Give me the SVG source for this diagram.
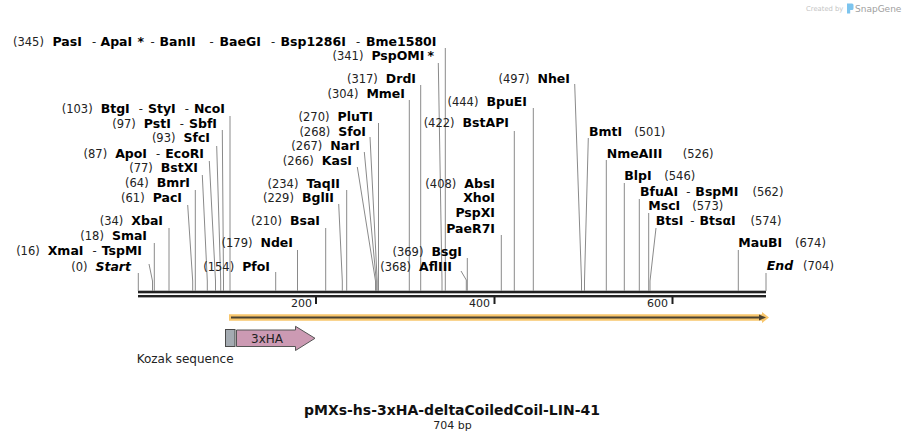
<svg xmlns="http://www.w3.org/2000/svg" width="905" height="441" viewBox="0 0 905 441">
<style>
text{font-family:"DejaVu Sans",Verdana,sans-serif}
.n{font-size:11.5px;fill:#222}
.b{font-size:12.5px;font-weight:bold;fill:#000}
.bi{font-size:12.5px;font-weight:bold;font-style:italic;fill:#000}
.c{fill:none;stroke:#8a8a8a;stroke-width:1}
.tk{stroke:#1e1e1e;stroke-width:2}
.tl{font-size:11px;fill:#222}
</style>
<rect width="905" height="441" fill="#fff"/>
<g id="watermark">
<text x="806" y="10.5" style="font-size:6.8px;fill:#c4c4c4">Created by</text>
<path d="M847 3.5h5a1.5 1.5 0 0 1 1.5 1.5v3.5a1.5 1.5 0 0 1-1.5 1.5h-1.8v3.5h-3.2z" fill="#7cc4ee"/>
<text x="855" y="11.5" style="font-size:9px;fill:#a0a0a0">SnapGene</text>
</g>
<g id="backbone">
<rect x="138" y="290.7" width="628" height="2.6" fill="#222"/>
<rect x="138" y="295" width="628" height="2.4" fill="#222"/>
<line class="tk" x1="316" y1="297" x2="316" y2="304"/>
<line class="tk" x1="494.5" y1="297" x2="494.5" y2="304"/>
<line class="tk" x1="672.5" y1="297" x2="672.5" y2="304"/>
<text class="tl" x="312" y="307" text-anchor="end">200</text>
<text class="tl" x="490" y="307" text-anchor="end">400</text>
<text class="tl" x="668" y="307" text-anchor="end">600</text>
</g>
<g id="connectors">
<polyline class="c" points="138.3,273 138.3,291"/>
<polyline class="c" points="149,264 152.5,281 152.5,291"/>
<polyline class="c" points="154.3,243 154.3,291"/>
<polyline class="c" points="169,228 169,291"/>
<polyline class="c" points="187.7,205 192.7,281 192.7,291"/>
<polyline class="c" points="195.3,190 195.3,291"/>
<polyline class="c" points="202.3,175 207.3,281 207.3,291"/>
<polyline class="c" points="209.3,161 215.5,281 215.5,291"/>
<polyline class="c" points="216.7,146 220.7,281 220.7,291"/>
<polyline class="c" points="222.3,130 223.5,281 223.5,291"/>
<polyline class="c" points="230,116 230,291"/>
<polyline class="c" points="275.7,272 275.7,291"/>
<polyline class="c" points="297.5,250 297.5,291"/>
<polyline class="c" points="325.7,228 325.7,291"/>
<polyline class="c" points="338.7,204 342.3,281 342.3,291"/>
<polyline class="c" points="346.7,190 346.7,291"/>
<polyline class="c" points="357.3,167 375.5,281 375.5,291"/>
<polyline class="c" points="364.3,152 376.3,281 376.3,291"/>
<polyline class="c" points="370,137 377.2,281 377.2,291"/>
<polyline class="c" points="378.5,123 378.5,291"/>
<polyline class="c" points="409.3,100 409.3,291"/>
<polyline class="c" points="420.7,85 420.7,291"/>
<polyline class="c" points="438.3,63 442,281 442,291"/>
<polyline class="c" points="445.3,48 445.3,291"/>
<polyline class="c" points="461,271 466.3,280 466.3,291"/>
<polyline class="c" points="467.3,258 467.3,291"/>
<polyline class="c" points="501.3,235 501.3,291"/>
<polyline class="c" points="514.3,131 514.3,291"/>
<polyline class="c" points="533.3,108 533.3,291"/>
<polyline class="c" points="574.7,84 581.5,281 581.5,291"/>
<polyline class="c" points="588.3,138 584.5,281 584.5,291"/>
<polyline class="c" points="606.3,160 606.3,291"/>
<polyline class="c" points="624.3,183 624.3,291"/>
<polyline class="c" points="639.3,199 639.3,291"/>
<polyline class="c" points="648.7,213 648.7,291"/>
<polyline class="c" points="656,228 650,281 650,291"/>
<polyline class="c" points="738.3,250 738.3,291"/>
<polyline class="c" points="766,273 766,291"/>
</g>
<g id="e-Start"><text x="131" y="270.7" text-anchor="end"><tspan class="n">(0)</tspan><tspan class="bi" dx="8">Start</tspan></text></g>
<g id="e-XmaI"><text x="142" y="255" text-anchor="end"><tspan class="n">(16)</tspan><tspan class="b" dx="8">XmaI</tspan><tspan class="n" dx="9">-</tspan><tspan class="b" dx="5">TspMI</tspan></text></g>
<g id="e-SmaI"><text x="147" y="240" text-anchor="end"><tspan class="n">(18)</tspan><tspan class="b" dx="8">SmaI</tspan></text></g>
<g id="e-XbaI"><text x="163" y="225" text-anchor="end"><tspan class="n">(34)</tspan><tspan class="b" dx="8">XbaI</tspan></text></g>
<g id="e-PacI"><text x="182" y="202.3" text-anchor="end"><tspan class="n">(61)</tspan><tspan class="b" dx="8">PacI</tspan></text></g>
<g id="e-BmrI"><text x="190" y="187.3" text-anchor="end"><tspan class="n">(64)</tspan><tspan class="b" dx="8">BmrI</tspan></text></g>
<g id="e-BstXI"><text x="198" y="172.3" text-anchor="end"><tspan class="n">(77)</tspan><tspan class="b" dx="8">BstXI</tspan></text></g>
<g id="e-ApoI"><text x="204" y="157.7" text-anchor="end"><tspan class="n">(87)</tspan><tspan class="b" dx="8">ApoI</tspan><tspan class="n" dx="9">-</tspan><tspan class="b" dx="5">EcoRI</tspan></text></g>
<g id="e-SfcI"><text x="210" y="142.3" text-anchor="end"><tspan class="n">(93)</tspan><tspan class="b" dx="8">SfcI</tspan></text></g>
<g id="e-PstI"><text x="217" y="127.7" text-anchor="end"><tspan class="n">(97)</tspan><tspan class="b" dx="8">PstI</tspan><tspan class="n" dx="9">-</tspan><tspan class="b" dx="5">SbfI</tspan></text></g>
<g id="e-NcoI"><text x="225" y="112.7" text-anchor="end"><tspan class="n">(103)</tspan><tspan class="b" dx="8">BtgI</tspan><tspan class="n" dx="9">-</tspan><tspan class="b" dx="5">StyI</tspan><tspan class="n" dx="9">-</tspan><tspan class="b" dx="5">NcoI</tspan></text></g>
<g id="e-PfoI"><text x="270" y="270.7" text-anchor="end"><tspan class="n">(154)</tspan><tspan class="b" dx="8">PfoI</tspan></text></g>
<g id="e-NdeI"><text x="293" y="247.3" text-anchor="end"><tspan class="n">(179)</tspan><tspan class="b" dx="8">NdeI</tspan></text></g>
<g id="e-BsaI"><text x="320" y="225" text-anchor="end"><tspan class="n">(210)</tspan><tspan class="b" dx="8">BsaI</tspan></text></g>
<g id="e-BglII"><text x="334" y="202.3" text-anchor="end"><tspan class="n">(229)</tspan><tspan class="b" dx="8">BglII</tspan></text></g>
<g id="e-TaqII"><text x="340" y="187.7" text-anchor="end"><tspan class="n">(234)</tspan><tspan class="b" dx="8">TaqII</tspan></text></g>
<g id="e-KasI"><text x="352" y="165.3" text-anchor="end"><tspan class="n">(266)</tspan><tspan class="b" dx="8">KasI</tspan></text></g>
<g id="e-NarI"><text x="360" y="150.3" text-anchor="end"><tspan class="n">(267)</tspan><tspan class="b" dx="8">NarI</tspan></text></g>
<g id="e-SfoI"><text x="366" y="135.7" text-anchor="end"><tspan class="n">(268)</tspan><tspan class="b" dx="8">SfoI</tspan></text></g>
<g id="e-PluTI"><text x="373" y="120.7" text-anchor="end"><tspan class="n">(270)</tspan><tspan class="b" dx="8">PluTI</tspan></text></g>
<g id="e-MmeI"><text x="405" y="98.3" text-anchor="end"><tspan class="n">(304)</tspan><tspan class="b" dx="8">MmeI</tspan></text></g>
<g id="e-DrdI"><text x="416" y="83.3" text-anchor="end"><tspan class="n">(317)</tspan><tspan class="b" dx="8">DrdI</tspan></text></g>
<g id="e-PspOMI"><text x="434" y="60" text-anchor="end"><tspan class="n">(341)</tspan><tspan class="b" dx="8">PspOMI</tspan><tspan class="b" dx="3">*</tspan></text></g>
<g id="e-PasI"><text y="46"><tspan class="n" x="13">(345)</tspan><tspan class="b" x="52.5">PasI</tspan><tspan class="n" x="92">-</tspan><tspan class="b" x="100.5">ApaI</tspan><tspan class="b" x="137.5">*</tspan><tspan class="n" x="150.5">-</tspan><tspan class="b" x="159.5">BanII</tspan><tspan class="n" x="209.5">-</tspan><tspan class="b" x="219.5">BaeGI</tspan><tspan class="n" x="271">-</tspan><tspan class="b" x="280.5">Bsp1286I</tspan><tspan class="n" x="356">-</tspan><tspan class="b" x="366">Bme1580I</tspan></text></g>
<g id="e-AflIII"><text x="452" y="270.7" text-anchor="end"><tspan class="n">(368)</tspan><tspan class="b" dx="8">AflIII</tspan></text></g>
<g id="e-BsgI"><text x="462" y="255.7" text-anchor="end"><tspan class="n">(369)</tspan><tspan class="b" dx="8">BsgI</tspan></text></g>
<g id="e-AbsI">
<text x="495" y="187.7" text-anchor="end"><tspan class="n">(408)</tspan><tspan class="b" dx="8">AbsI</tspan></text>
<text class="b" x="495" y="202.3" text-anchor="end">XhoI</text>
<text class="b" x="495" y="217.3" text-anchor="end">PspXI</text>
<text class="b" x="495" y="232.7" text-anchor="end">PaeR7I</text>
</g>
<g id="e-BstAPI"><text x="509" y="126.7" text-anchor="end"><tspan class="n">(422)</tspan><tspan class="b" dx="8">BstAPI</tspan></text></g>
<g id="e-BpuEI"><text x="527" y="106" text-anchor="end"><tspan class="n">(444)</tspan><tspan class="b" dx="8">BpuEI</tspan></text></g>
<g id="e-NheI"><text x="570" y="82.7" text-anchor="end"><tspan class="n">(497)</tspan><tspan class="b" dx="8">NheI</tspan></text></g>
<g id="e-BmtI"><text y="136"><tspan class="b" x="589">BmtI</tspan><tspan class="n" x="634.3">(501)</tspan></text></g>
<g id="e-NmeAIII"><text y="158.3"><tspan class="b" x="606.7">NmeAIII</tspan><tspan class="n" x="682.7">(526)</tspan></text></g>
<g id="e-BlpI"><text y="179.7"><tspan class="b" x="624.3">BlpI</tspan><tspan class="n" x="664.3">(546)</tspan></text></g>
<g id="e-BfuAI"><text y="196"><tspan class="b" x="640">BfuAI</tspan><tspan class="n" dx="8">-</tspan><tspan class="b" dx="5">BspMI</tspan><tspan class="n" x="752.5">(562)</tspan></text></g>
<g id="e-MscI"><text y="210.3"><tspan class="b" x="648.3">MscI</tspan><tspan class="n" x="692.3">(573)</tspan></text></g>
<g id="e-BtsI"><text y="225.3"><tspan class="b" x="655.7">BtsI</tspan><tspan class="n" dx="7">-</tspan><tspan class="b" dx="5">BtsαI</tspan><tspan class="n" x="750.5">(574)</tspan></text></g>
<g id="e-MauBI"><text y="247.3"><tspan class="b" x="738.3">MauBI</tspan><tspan class="n" x="795">(674)</tspan></text></g>
<g id="e-End"><text y="270.3"><tspan class="bi" x="766.7">End</tspan><tspan class="n" x="803">(704)</tspan></text></g>
<g id="f-orf">
<path d="M229,314.3H762V312L769,317.5L762,323V320.7H229Z" fill="#f8c66c"/>
<line x1="231" y1="317.5" x2="761" y2="317.5" stroke="#4a4232" stroke-width="2"/>
<path d="M759,314.5L766,317.5L759,320.5Z" fill="#4a4232"/>
</g>
<g id="f-kozak">
<rect x="225.5" y="329.5" width="9.5" height="17" fill="#a4abb2" stroke="#4a4a4a" stroke-width="1"/>
<text x="136.7" y="363" style="font-size:12px;fill:#222">Kozak sequence</text>
</g>
<g id="f-3xHA">
<path d="M236.5,330H295.5V326.3L315,338.3L295.5,350.5V346.5H236.5Z" fill="#cc9ab3" stroke="#555" stroke-width="1"/>
<text x="267" y="342.5" text-anchor="middle" style="font-size:12px;fill:#222">3xHA</text>
</g>
<g id="title">
<text x="452" y="415" text-anchor="middle" style="font-size:14px;font-weight:bold;fill:#111">pMXs-hs-3xHA-deltaCoiledCoil-LIN-41</text>
<text x="452.5" y="428.5" text-anchor="middle" style="font-size:11px;fill:#222">704 bp</text>
</g>
</svg>
